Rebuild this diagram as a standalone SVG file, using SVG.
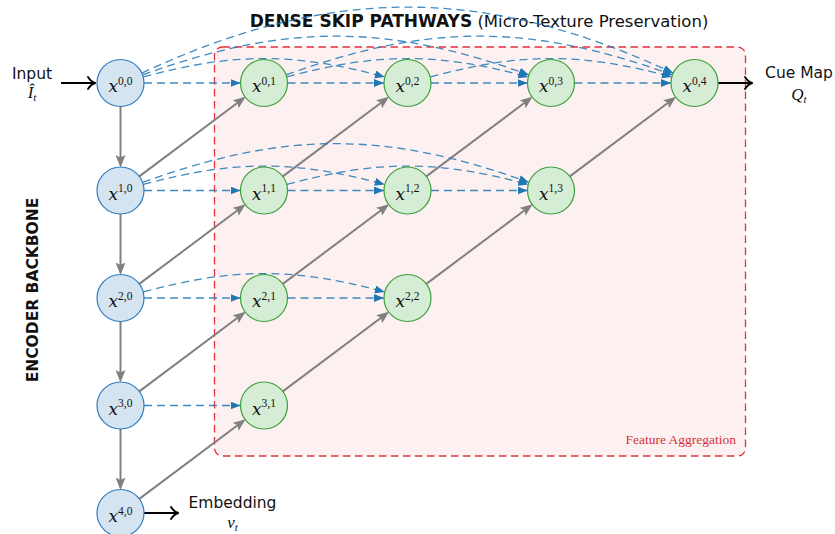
<svg xmlns="http://www.w3.org/2000/svg" width="835" height="534" viewBox="0 0 835 534">
  <style>
    .enc { fill: #d4e4f1; stroke: #2f7cc0; stroke-width: 1.2; }
    .dec { fill: #d5ecd5; stroke: #3aa13a; stroke-width: 1.2; }
    .var { font-family: "DejaVu Serif", serif; font-style: italic; font-size: 17px; fill: #111; }
    .sup { font-family: "Liberation Serif", serif; font-style: normal; font-size: 11.5px; }
    .skip { fill: none; stroke: #1f77b4; stroke-opacity: 0.85; stroke-width: 1.3; stroke-dasharray: 8 5; marker-end: url(#ah-blue); }
    .flow { fill: none; stroke: #808080; stroke-width: 2; marker-end: url(#ah-gray); }
    .io { fill: none; stroke: #000; stroke-width: 2; marker-end: url(#ah-black); }
    .lbl { font-family: "DejaVu Sans", sans-serif; font-size: 15.5px; fill: #111; }
    .math { font-family: "Liberation Serif", serif; font-style: italic; font-size: 17px; fill: #111; }
    .sub { font-size: 11px; }
  </style>
  <defs>
    <marker id="ah-blue" markerUnits="userSpaceOnUse" markerWidth="10" markerHeight="8" viewBox="0 0 10 8" refX="10" refY="4" orient="auto">
      <path d="M0,0 L10,4 L0,8 z" fill="#1f77b4"/>
    </marker>
    <marker id="ah-gray" markerUnits="userSpaceOnUse" markerWidth="13" markerHeight="10" viewBox="0 0 13 10" refX="10" refY="5" orient="auto">
      <path d="M0,0 L12.5,5 L0,10 L2.5,5 z" fill="#808080"/>
    </marker>
    <marker id="ah-black" markerUnits="userSpaceOnUse" markerWidth="12" markerHeight="14" viewBox="-9 -7 12 14" refX="1" refY="0" orient="auto" overflow="visible">
      <path d="M-6.5,-6 C-4.5,-2.8 -2,-0.7 1,0 C-2,0.7 -4.5,2.8 -6.5,6" fill="none" stroke="#000" stroke-width="1.9" stroke-linecap="round"/>
    </marker>
  </defs>

  <!-- aggregation region -->
  <g id="aggregation">
    <rect x="214.5" y="47" width="531" height="409" rx="8" fill="#fdf0f0" stroke="#e8303c" stroke-width="1.3" stroke-dasharray="7.5 4.5"/>
    <text x="736" y="444" text-anchor="end" font-family="Liberation Serif, serif" font-size="13.5" fill="#d7313a">Feature Aggregation</text>
  </g>

  <!-- titles -->
  <text x="479" y="27" text-anchor="middle" font-family="DejaVu Sans, sans-serif" font-size="16.5" fill="#111"><tspan font-weight="bold" font-size="17">DENSE SKIP PATHWAYS</tspan> (Micro-Texture Preservation)</text>
  <text transform="translate(38.3 290) rotate(-90)" text-anchor="middle" font-family="DejaVu Sans, sans-serif" font-weight="bold" font-size="15.5" fill="#111">ENCODER BACKBONE</text>

  <g id="connectors">
    <!-- encoder downsampling -->
    <path class="flow" d="M120.5,106.5 V165"/>
    <path class="flow" d="M120.5,214 V272.5"/>
    <path class="flow" d="M120.5,321.5 V380"/>
    <path class="flow" d="M120.5,429 V487.5"/>
    <!-- upsampling diagonals -->
    <path class="flow" d="M139.31,176.41 L243.59,98.29"/>
    <path class="flow" d="M139.31,283.91 L243.59,205.79"/>
    <path class="flow" d="M139.31,391.41 L243.59,313.29"/>
    <path class="flow" d="M139.31,498.91 L243.59,420.79"/>
    <path class="flow" d="M282.81,176.41 L387.09,98.29"/>
    <path class="flow" d="M282.81,283.91 L387.09,205.79"/>
    <path class="flow" d="M282.81,391.41 L387.09,313.29"/>
    <path class="flow" d="M426.31,176.41 L530.59,98.29"/>
    <path class="flow" d="M426.31,283.91 L530.59,205.79"/>
    <path class="flow" d="M569.81,176.41 L674.09,98.29"/>

    <!-- same-level skips -->
    <path class="skip" d="M144,83 H240.5"/>
    <path class="skip" d="M287.5,83 H384"/>
    <path class="skip" d="M431,83 H527.5"/>
    <path class="skip" d="M574.5,83 H671"/>
    <path class="skip" d="M144,190.5 H240.5"/>
    <path class="skip" d="M287.5,190.5 H384"/>
    <path class="skip" d="M431,190.5 H527.5"/>
    <path class="skip" d="M144,298 H240.5"/>
    <path class="skip" d="M287.5,298 H384"/>
    <path class="skip" d="M144,405.5 H240.5"/>

    <!-- dense long-range skips -->
    <path class="skip" d="M143.2,76.92 C234.57,52.44 293.43,52.44 384.8,76.92"/>
    <path class="skip" d="M286.7,76.92 C378.07,52.44 436.93,52.44 528.3,76.92"/>
    <path class="skip" d="M430.2,76.92 C521.57,52.44 580.43,52.44 671.8,76.92"/>
    <path class="skip" d="M142.58,74.96 C284.71,23.23 386.79,23.23 528.92,74.96"/>
    <path class="skip" d="M286.08,74.96 C428.21,23.23 530.29,23.23 672.42,74.96"/>
    <path class="skip" d="M141.8,73.07 C330.35,-14.85 484.65,-14.85 673.2,73.07"/>
    <path class="skip" d="M143.2,184.42 C234.57,159.94 293.43,159.94 384.8,184.42"/>
    <path class="skip" d="M286.7,184.42 C378.07,159.94 436.93,159.94 528.3,184.42"/>
    <path class="skip" d="M142.58,182.46 C284.71,130.73 386.79,130.73 528.92,182.46"/>
    <path class="skip" d="M143.2,291.92 C234.57,267.44 293.43,267.44 384.8,291.92"/>

    <!-- input / outputs -->
    <path class="io" d="M61,83 H95.5"/>
    <path class="io" d="M718,83 H752.5"/>
    <path class="io" d="M144,513 H178.5"/>
  </g>

  <!-- io labels -->
  <g id="input">
    <text class="lbl" x="32" y="79" text-anchor="middle">Input</text>
    <text class="math" x="32" y="98" text-anchor="middle">Î<tspan class="sub" dy="3">t</tspan></text>
  </g>
  <g id="cue-map">
    <text class="lbl" x="799" y="78" text-anchor="middle">Cue Map</text>
    <text class="math" x="799" y="100" text-anchor="middle">Q<tspan class="sub" dy="3">t</tspan></text>
  </g>
  <g id="embedding">
    <text class="lbl" x="232.5" y="508" text-anchor="middle">Embedding</text>
    <text class="math" x="232.5" y="528" text-anchor="middle">v<tspan class="sub" dy="3">t</tspan></text>
  </g>

  <!-- encoder column -->
  <g id="x00"><circle class="enc" cx="120.5" cy="83" r="23.5"/><text class="var" x="120.5" y="92" text-anchor="middle">x<tspan class="sup" dy="-7.5">0,0</tspan></text></g>
  <g id="x10"><circle class="enc" cx="120.5" cy="190.5" r="23.5"/><text class="var" x="120.5" y="199.5" text-anchor="middle">x<tspan class="sup" dy="-7.5">1,0</tspan></text></g>
  <g id="x20"><circle class="enc" cx="120.5" cy="298" r="23.5"/><text class="var" x="120.5" y="307" text-anchor="middle">x<tspan class="sup" dy="-7.5">2,0</tspan></text></g>
  <g id="x30"><circle class="enc" cx="120.5" cy="405.5" r="23.5"/><text class="var" x="120.5" y="414.5" text-anchor="middle">x<tspan class="sup" dy="-7.5">3,0</tspan></text></g>
  <g id="x40"><circle class="enc" cx="120.5" cy="513" r="23.5"/><text class="var" x="120.5" y="522" text-anchor="middle">x<tspan class="sup" dy="-7.5">4,0</tspan></text></g>

  <!-- nested decoder nodes -->
  <g id="x01"><circle class="dec" cx="264" cy="83" r="23.5"/><text class="var" x="264" y="92" text-anchor="middle">x<tspan class="sup" dy="-7.5">0,1</tspan></text></g>
  <g id="x02"><circle class="dec" cx="407.5" cy="83" r="23.5"/><text class="var" x="407.5" y="92" text-anchor="middle">x<tspan class="sup" dy="-7.5">0,2</tspan></text></g>
  <g id="x03"><circle class="dec" cx="551" cy="83" r="23.5"/><text class="var" x="551" y="92" text-anchor="middle">x<tspan class="sup" dy="-7.5">0,3</tspan></text></g>
  <g id="x04"><circle class="dec" cx="694.5" cy="83" r="23.5"/><text class="var" x="694.5" y="92" text-anchor="middle">x<tspan class="sup" dy="-7.5">0,4</tspan></text></g>
  <g id="x11"><circle class="dec" cx="264" cy="190.5" r="23.5"/><text class="var" x="264" y="199.5" text-anchor="middle">x<tspan class="sup" dy="-7.5">1,1</tspan></text></g>
  <g id="x12"><circle class="dec" cx="407.5" cy="190.5" r="23.5"/><text class="var" x="407.5" y="199.5" text-anchor="middle">x<tspan class="sup" dy="-7.5">1,2</tspan></text></g>
  <g id="x13"><circle class="dec" cx="551" cy="190.5" r="23.5"/><text class="var" x="551" y="199.5" text-anchor="middle">x<tspan class="sup" dy="-7.5">1,3</tspan></text></g>
  <g id="x21"><circle class="dec" cx="264" cy="298" r="23.5"/><text class="var" x="264" y="307" text-anchor="middle">x<tspan class="sup" dy="-7.5">2,1</tspan></text></g>
  <g id="x22"><circle class="dec" cx="407.5" cy="298" r="23.5"/><text class="var" x="407.5" y="307" text-anchor="middle">x<tspan class="sup" dy="-7.5">2,2</tspan></text></g>
  <g id="x31"><circle class="dec" cx="264" cy="405.5" r="23.5"/><text class="var" x="264" y="414.5" text-anchor="middle">x<tspan class="sup" dy="-7.5">3,1</tspan></text></g>
</svg>
